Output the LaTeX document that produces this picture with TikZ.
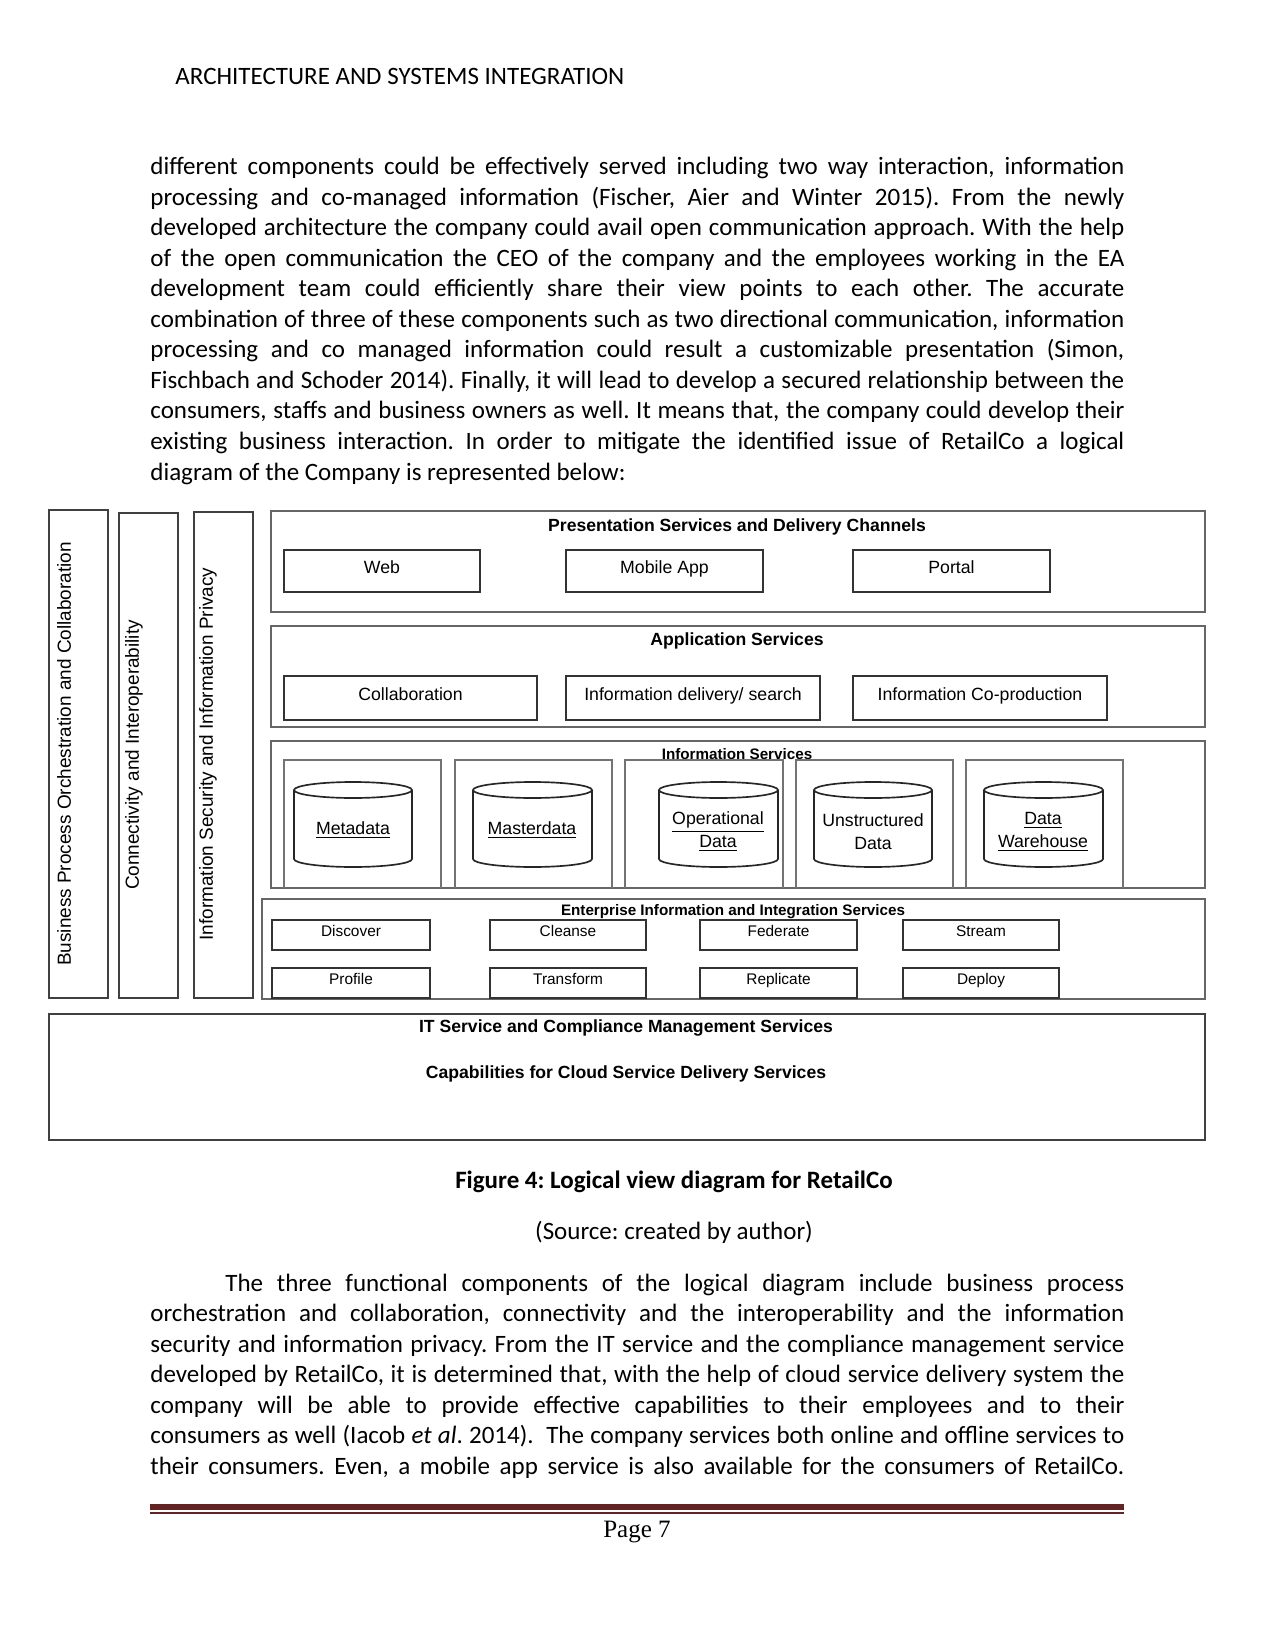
\documentclass[tikz,border=0pt]{standalone}
\usepackage{fontspec}
\setmainfont{Carlito}
\newfontfamily\diafont{Liberation Sans}
\newfontfamily\pagefont{Liberation Serif}
\usetikzlibrary{fit}
\frenchspacing
\definecolor{footred}{HTML}{632523}
\newcommand{\jline}[1]{\makebox[467.5pt][s]{#1}}
\newcommand{\dbcyl}[4]{% left right top bottom (px)
  \pgfmathsetmacro{\rxc}{(#2-#1)/2}
  \pgfmathsetmacro{\cxc}{(#1+#2)/2}
  \draw[cyl] (\cxc,#3+8) ellipse [x radius=\rxc, y radius=8];
  \draw[cyl] (#1,#3+8) -- (#1,#4-8) arc[start angle=180, end angle=0, x radius=\rxc, y radius=8] -- (#2,#3+8);
}
\begin{document}
\begin{tikzpicture}[x=0.48pt,y=-0.48pt,
  txt/.style={anchor=base west, inner sep=0pt, font=\fontsize{12}{14.6}\selectfont},
  bigbox/.style={draw=black!60, line width=0.8pt, inner sep=0pt},
  boxline/.style={draw=black!80, line width=0.8pt, inner sep=0pt},
  smalltxt/.style={inner sep=0pt, text height=6.2pt, text depth=1.6pt, yshift=1.2pt, font=\diafont\fontsize{8.5}{10}\selectfont},
  tinytxt/.style={inner sep=0pt, text height=5.4pt, text depth=1.4pt, yshift=1.2pt, font=\diafont\fontsize{7.4}{9}\selectfont},
  colbox/.style={draw=black!75, line width=0.8pt, inner sep=0pt},
  coltxt/.style={rotate=90, inner sep=0pt, font=\diafont\fontsize{9.1}{11}\selectfont},
  ttl/.style={inner sep=0pt, font=\diafont\bfseries\fontsize{8.45}{10}\selectfont},
  ttlsm/.style={inner sep=0pt, font=\diafont\bfseries\fontsize{7.3}{9}\selectfont},
  cyl/.style={draw=black!85, line width=0.8pt},
  cyltxt/.style={inner sep=0pt, align=center, font=\diafont\fontsize{8.5}{11}\selectfont},
  inbox/.style={draw=black!55, line width=0.7pt}
]
\useasboundingbox[fill=white] (0,0) rectangle (1275,1650);

% header
\node[txt] (hdr) at (175,85) {ARCHITECTURE AND SYSTEMS INTEGRATION};

% paragraph 1
\node[txt] (p1) at (150,175) {\jline{different components could be effectively served including two way interaction, information}};
\node[txt] (p2) at (150,205.5) {\jline{processing and co-managed information (Fischer, Aier and Winter 2015). From the newly}};
\node[txt] (p3) at (150,236) {\jline{developed architecture the company could avail open communication approach. With the help}};
\node[txt] (p4) at (150,266.5) {\jline{of the open communication the CEO of the company and the employees working in the EA}};
\node[txt] (p5) at (150,297) {\jline{development team could efficiently share their view points to each other. The accurate}};
\node[txt] (p6) at (150,327.5) {\jline{combination of three of these components such as two directional communication, information}};
\node[txt] (p7) at (150,358) {\jline{processing and co managed information could result a customizable presentation (Simon,}};
\node[txt] (p8) at (150,388.5) {\jline{Fischbach and Schoder 2014). Finally, it will lead to develop a secured relationship between the}};
\node[txt] (p9) at (150,419) {\jline{consumers, staffs and business owners as well. It means that, the company could develop their}};
\node[txt] (p10) at (150,449.5) {\jline{existing business interaction. In order to mitigate the identified issue of RetailCo a logical}};
\node[txt] (p11) at (150,480) {diagram of the Company is represented below:};

% ---------------- diagram ----------------
% vertical columns
\node[colbox, fit={(49,510) (108,998)}] (c1) {};
\node[colbox, fit={(119,513) (178,998)}] (c2) {};
\node[colbox, fit={(194,512) (253,998)}] (c3) {};
\node[coltxt] (c1t) at (64,754) {Business Process Orchestration and Collaboration};
\node[coltxt] (c2t) at (134,755) {Connectivity and Interoperability};
\node[coltxt] (c3t) at (208,754) {Information Security and Information Privacy};

% presentation
\node[bigbox, fit={(271,511) (1205,612)}] (pres) {};
\node[ttl] (prest) at (737,527) {Presentation Services and Delivery Channels};
\node[boxline, fit={(284,550) (480,592)}] (web) {};
\node[boxline, fit={(566,550) (763,592)}] (mob) {};
\node[boxline, fit={(853,550) (1050,592)}] (portal) {};
\node[smalltxt] (webt) at (web.center) {Web};
\node[smalltxt] (mobt) at (mob.center) {Mobile App};
\node[smalltxt] (portalt) at (portal.center) {Portal};

% application
\node[bigbox, fit={(271,626) (1205,727)}] (app) {};
\node[ttl] (appt) at (737,641) {Application Services};
\node[boxline, fit={(284,676) (537,720)}] (collab) {};
\node[boxline, fit={(566,676) (820,720)}] (infodel) {};
\node[boxline, fit={(853,676) (1107,720)}] (infoco) {};
\node[smalltxt] (collabt) at (collab.center) {Collaboration};
\node[smalltxt] (infodelt) at (infodel.center) {Information delivery/ search};
\node[smalltxt] (infocot) at (infoco.center) {Information Co-production};

% information services
\node[bigbox, fit={(271,741) (1205,888)}] (info) {};
\node[ttlsm] (infot) at (737,754) {Information Services};
\draw[inbox] (284,888) -- (284,760) -- (441,760) -- (441,888);
\draw[inbox] (455,888) -- (455,760) -- (612,760) -- (612,888);
\draw[inbox] (625,888) -- (625,760) -- (783,760) -- (783,888);
\draw[inbox] (796,888) -- (796,760) -- (953,760) -- (953,888);
\draw[inbox] (966,888) -- (966,760) -- (1123,760) -- (1123,888);
\dbcyl{294}{412}{782}{867}
\dbcyl{473}{592}{782}{867}
\dbcyl{659}{778}{782}{867}
\dbcyl{814}{932}{782}{867}
\dbcyl{984}{1103}{782}{867}
\node[cyltxt] (meta) at (353,830) {\underline{Metadata}};
\node[cyltxt] (master) at (532,830) {\underline{Masterdata}};
\node[cyltxt] (oper) at (718,832) {\underline{Operational}\\\underline{Data}};
\node[cyltxt] (unstr) at (873,832) {Unstructured\\Data};
\node[cyltxt] (dw) at (1043,832) {\underline{Data}\\\underline{Warehouse}};

% enterprise
\node[bigbox, fit={(262,899) (1205,999)}] (ent) {};
\node[ttlsm] (entt) at (733,912) {Enterprise Information and Integration Services};
\node[boxline, fit={(272,920) (430,950)}] (disc) {};
\node[boxline, fit={(490,920) (646,950)}] (clean) {};
\node[boxline, fit={(700,920) (857,950)}] (fed) {};
\node[boxline, fit={(903,920) (1059,950)}] (stream) {};
\node[boxline, fit={(272,968) (430,998)}] (prof) {};
\node[boxline, fit={(490,968) (646,998)}] (trans) {};
\node[boxline, fit={(700,968) (857,998)}] (repl) {};
\node[boxline, fit={(903,968) (1059,998)}] (deploy) {};
\node[tinytxt] (disct) at (disc.center) {Discover};
\node[tinytxt] (cleant) at (clean.center) {Cleanse};
\node[tinytxt] (fedt) at (fed.center) {Federate};
\node[tinytxt] (streamt) at (stream.center) {Stream};
\node[tinytxt] (proft) at (prof.center) {Profile};
\node[tinytxt] (transt) at (trans.center) {Transform};
\node[tinytxt] (replt) at (repl.center) {Replicate};
\node[tinytxt] (deployt) at (deploy.center) {Deploy};

% IT service
\node[bigbox, draw=black!75, fit={(49,1014) (1205,1140)}] (it) {};
\node[ttl] (itt1) at (626,1028) {IT Service and Compliance Management Services};
\node[ttl] (itt2) at (626,1074) {Capabilities for Cloud Service Delivery Services};

% caption
\node[txt, anchor=base, font=\bfseries\fontsize{12}{14.6}\selectfont] (cap) at (674,1188) {Figure 4: Logical view diagram for RetailCo};
\node[txt, anchor=base] (src) at (674,1239) {(Source: created by author)};

% paragraph 2
\node[txt] (q1) at (225,1291) {\makebox[431.5pt][s]{The three functional components of the logical diagram include business process}};
\node[txt] (q2) at (150,1321.5) {\jline{orchestration and collaboration, connectivity and the interoperability and the information}};
\node[txt] (q3) at (150,1352) {\jline{security and information privacy. From the IT service and the compliance management service}};
\node[txt] (q4) at (150,1382.5) {\jline{developed by RetailCo, it is determined that, with the help of cloud service delivery system the}};
\node[txt] (q5) at (150,1413) {\jline{company will be able to provide effective capabilities to their employees and to their}};
\node[txt] (q6) at (150,1443.5) {\jline{consumers as well (Iacob \textit{et al}. 2014). \ The company services both online and offline services to}};
\node[txt] (q7) at (150,1474) {\jline{their consumers. Even, a mobile app service is also available for the consumers of RetailCo.}};

% footer
\coordinate (fa) at (150,1507);
\coordinate (fb) at (1124,1507);
\coordinate (fc) at (150,1513);
\coordinate (fd) at (1124,1513);
\draw[footred, line width=2.9pt] (fa) -- (fb);
\draw[footred, line width=0.7pt] (fc) -- (fd);
\node[txt, anchor=base, font=\pagefont\fontsize{12}{14}\selectfont] (pg) at (637,1537) {Page 7};
\end{tikzpicture}
\end{document}
